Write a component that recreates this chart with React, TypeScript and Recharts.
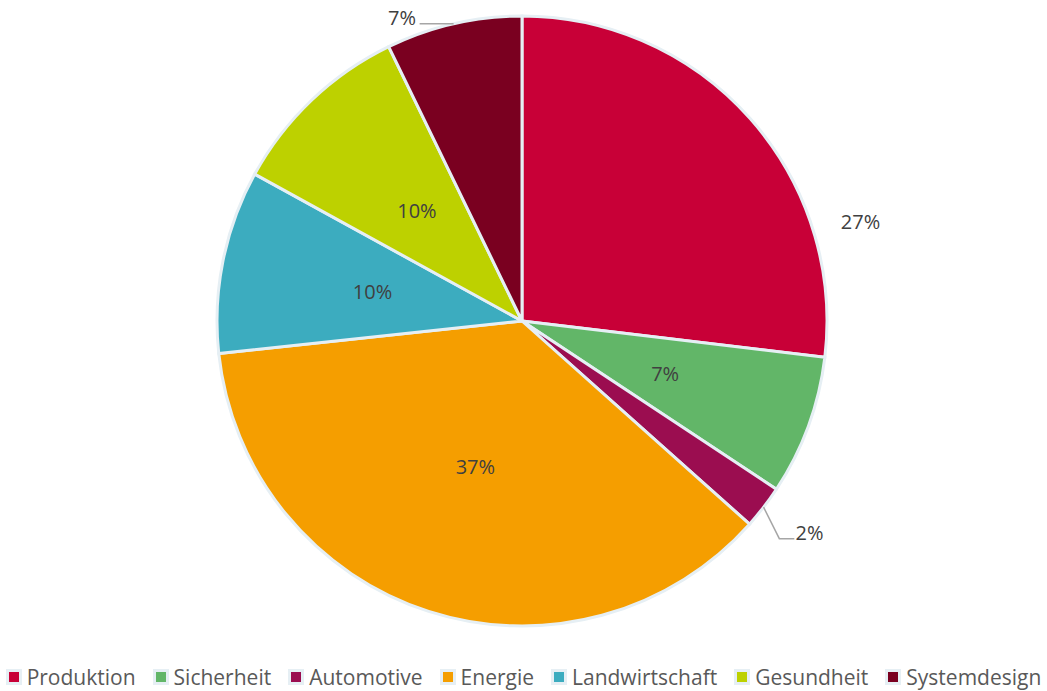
import * as React from 'react';
import { PieChart, Pie, Cell, Legend } from 'recharts';

const categories = ['Produktion', 'Sicherheit', 'Automotive', 'Energie', 'Landwirtschaft', 'Gesundheit', 'Systemdesign'];
const shares = [26.9, 7.4, 2.3, 36.7, 9.7, 9.8, 7.2];
const colors = ['#C80037', '#62B668', '#9B0D50', '#F59E00', '#3CACBF', '#BDD100', '#7A0020'];

// label placement per slice: radius factor, angle shift from mid angle, optional leader line
const labelPlacement = [
  { r: 1.157, da: -25.2, line: null },
  { r: 0.5, da: 0, line: null },
  { r: 1.17, da: 1.3, line: { elbowR: 1.105, elbowDA: -2.6, dx: 15 } },
  { r: 0.5, da: 0, line: null },
  { r: 0.5, da: 0, line: null },
  { r: 0.5, da: 0, line: null },
  { r: 1.07, da: 8.6, line: { elbowR: 1.0, elbowDA: 0, dx: -34 } },
];

const data = categories.map((name, i) => ({ name, value: shares[i] }));
const RAD = Math.PI / 180;
const FONT = '"Open Sans", "DejaVu Sans", sans-serif';

function polar(cx: number, cy: number, r: number, angle: number) {
  return { x: cx + r * Math.cos(-angle * RAD), y: cy + r * Math.sin(-angle * RAD) };
}

const renderLabel = (props: any) => {
  const { cx, cy, midAngle, outerRadius, index, percent } = props;
  const p = labelPlacement[index];
  const pos = polar(cx, cy, outerRadius * p.r, midAngle + p.da);
  return (
    <text x={pos.x} y={pos.y} fill="#404040" fontSize={20} fontFamily={FONT} textAnchor="middle" dominantBaseline="central">
      {`${Math.round(percent * 100)}%`}
    </text>
  );
};

const renderLabelLine = (props: any) => {
  const { cx, cy, midAngle, outerRadius, index } = props;
  const l = labelPlacement[index].line;
  if (!l) return <g />;
  const a = polar(cx, cy, outerRadius, midAngle);
  const b = polar(cx, cy, outerRadius * l.elbowR, midAngle + l.elbowDA);
  return (
    <path d={`M${a.x},${a.y}L${b.x},${b.y}L${b.x + l.dx},${b.y}`} stroke="#A6A6A6" strokeWidth={1.5} fill="none" />
  );
};

const renderLegend = () => (
  <div style={{ display: 'flex', justifyContent: 'center', alignItems: 'center', fontFamily: FONT, fontSize: 21, color: '#595959' }}>
    {categories.map((c, i) => (
      <div key={c} style={{ display: 'flex', alignItems: 'center', marginRight: i < categories.length - 1 ? 17 : 0 }}>
        <span style={{ display: 'inline-block', width: 10, height: 10, background: colors[i], border: '3px solid #E6EFF4', marginRight: 5 }} />
        <span>{c}</span>
      </div>
    ))}
  </div>
);

export default function App() {
  return (
    <div style={{ position: 'absolute', left: 0, top: 0, background: '#fff' }}>
      <PieChart width={1047} height={691} margin={{ top: 0, right: 0, bottom: 0, left: 0 }}>
        <Pie
          data={data}
          dataKey="value"
          nameKey="name"
          cx={522}
          cy={321}
          outerRadius={305}
          startAngle={90}
          endAngle={-270}
          stroke="#E6EFF4"
          strokeWidth={3}
          label={renderLabel}
          labelLine={renderLabelLine}
          isAnimationActive={false}
        >
          {data.map((d, i) => (
            <Cell key={d.name} fill={colors[i]} />
          ))}
        </Pie>
        <Legend content={renderLegend} verticalAlign="bottom" wrapperStyle={{ bottom: 0, left: 0, width: 1047 }} />
      </PieChart>
    </div>
  );
}
